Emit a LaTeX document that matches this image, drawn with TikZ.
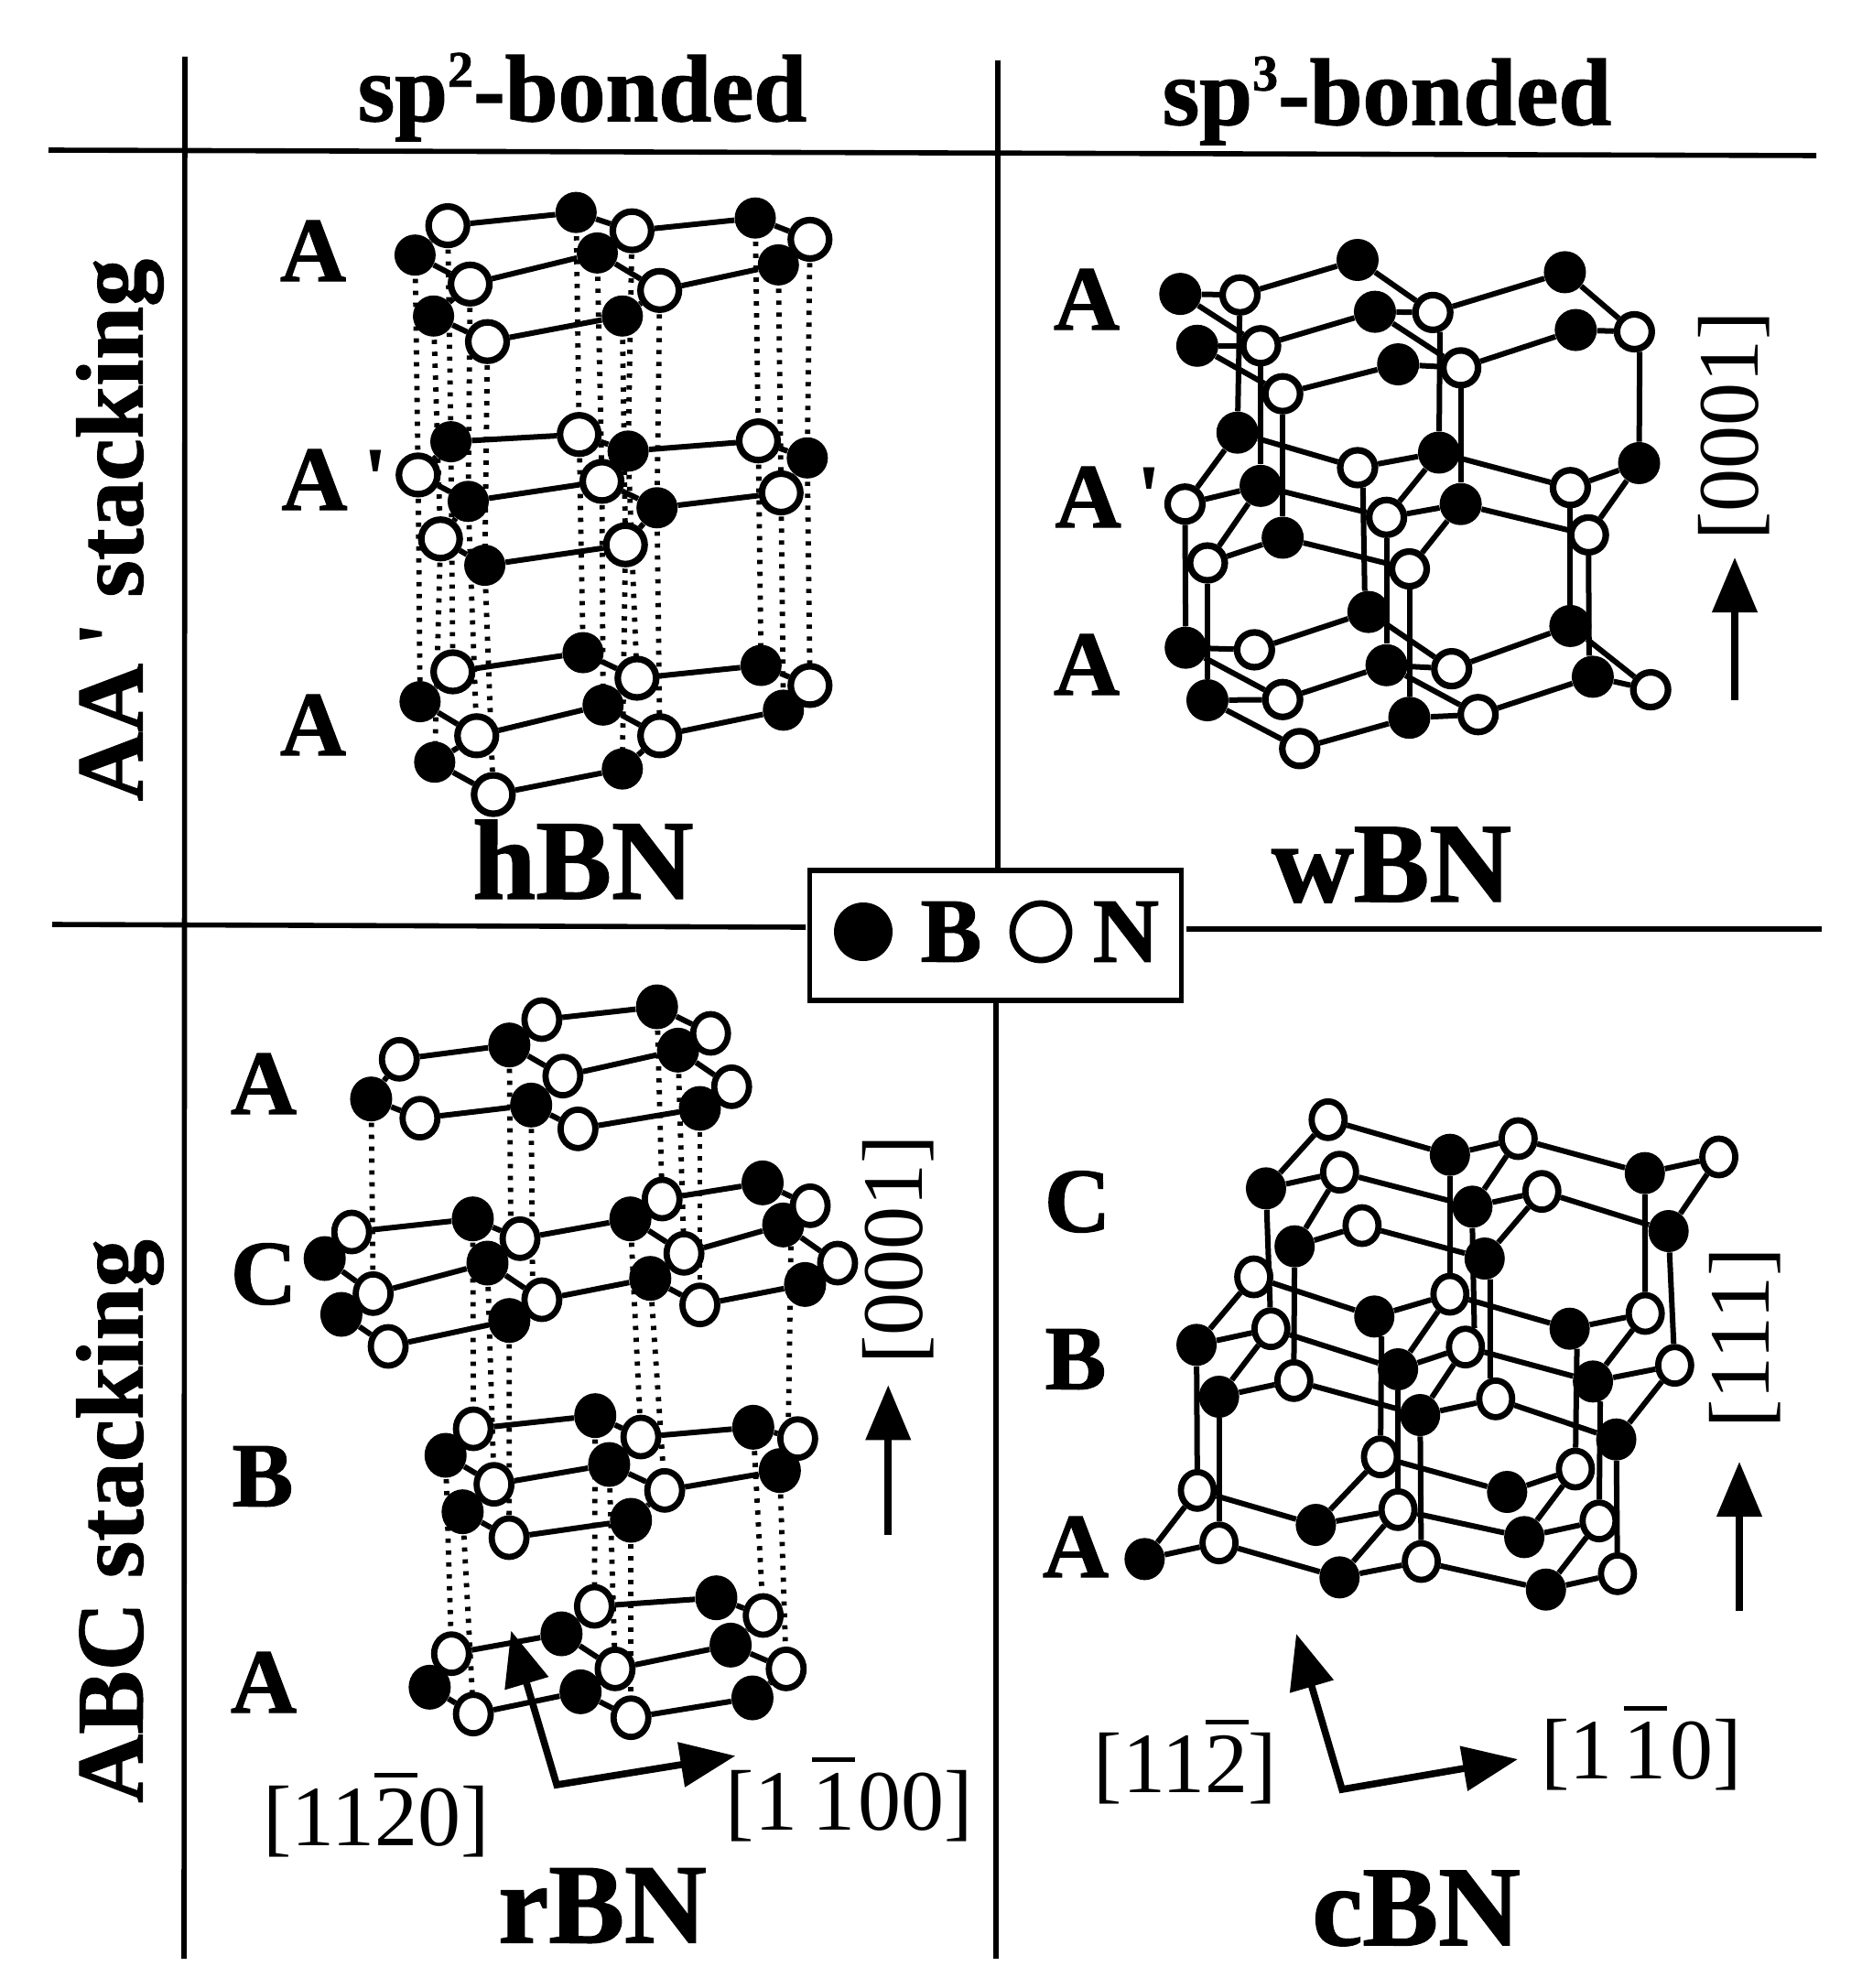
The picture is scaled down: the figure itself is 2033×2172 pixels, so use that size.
\documentclass[tikz,border=0pt]{standalone}
\usepackage{fontspec}
\setmainfont{Liberation Serif}[BoldFeatures={FakeBold=1.2}]
\newfontfamily\qf{Liberation Serif}
\usetikzlibrary{backgrounds,arrows.meta,shapes.geometric}
\newcommand\fsz[1]{\fontsize{#1}{#1}\selectfont}
\newcommand\ovb[1]{\setbox0=\hbox{#1}\rlap{\raisebox{\dimexpr\ht0+6pt\relax}{\rule{\wd0}{2.5pt}}}\box0\relax}
\newcommand\qmark{{\qf\bfseries\char39 }}
\newcommand\batom[3]{\node[batom] (#1) at (#2,#3) {};}
\newcommand\watom[3]{\node[watom] (#1) at (#2,#3) {};}
\newcommand\bonds[1]{\begin{pgfonlayer}{background}\foreach \a/\b in {#1} \draw[bond] (\a)--(\b);\end{pgfonlayer}}
\newcommand\dotbonds[1]{\begin{pgfonlayer}{background}\foreach \a/\b in {#1} \draw[dotbond] (\a)--(\b);\end{pgfonlayer}}
\tikzset{
 blk/.style={circle,fill=black,inner sep=0pt,minimum size=#1},
 wht/.style={circle,draw=black,fill=white,inner sep=0pt,line width=3.6pt,minimum size=#1},
 blke/.style 2 args={ellipse,fill=black,inner sep=0pt,minimum width=#1,minimum height=#2},
 whte/.style 2 args={ellipse,draw=black,fill=white,inner sep=0pt,line width=3.4pt,minimum width=#1,minimum height=#2},
 bond/.style={line width=3pt,black},
 dotbond/.style={line width=2.9pt,black,dash pattern=on 2.3pt off 4.2pt},
 frame/.style={line width=2.8pt,black},
 layerlab/.style={font=\bfseries\fsz{50pt},inner sep=0pt},
 bigname/.style={font=\bfseries\fsz{62pt},inner sep=0pt},
 headlab/.style={font=\bfseries\fsz{52pt},inner sep=0pt},
 sidelab/.style={font=\bfseries\fsz{52pt},inner sep=0pt,rotate=90},
 dirlab/.style={font=\fsz{47pt},inner sep=0pt},
 dirarrow/.style={line width=3.8pt,-{Triangle[length=30pt,width=24pt]}},
 axisarrow/.style={line width=3.8pt,miter limit=10,{Triangle[length=30pt,width=24pt]}-{Triangle[length=30pt,width=24pt]}},
}
\begin{document}
\begin{tikzpicture}[x=0.5pt,y=-0.5pt]
\useasboundingbox (0,0) rectangle (2033,2172);

% frame
\node[draw=black,line width=2.8pt,minimum width=203pt,minimum height=71pt,inner sep=0pt] (legend) at (1087.5,1022) {};
\coordinate (vlt) at (202,62); \coordinate (vlb) at (201,2140);
\coordinate (vct) at (1090,66); \coordinate (vcb) at (1088,2140);
\coordinate (fta) at (53,164); \coordinate (ftb) at (1984,170);
\coordinate (hla) at (57,1010); \coordinate (hlb) at (880,1013);
\coordinate (hra) at (1296,1015); \coordinate (hrb) at (1990,1015);
\draw[frame] (vlt)--(vlb);
\draw[frame] (vct)--(vct|-legend.north);
\draw[frame] (vcb|-legend.south)--(vcb);
\draw[frame] (fta)--(ftb);
\draw[frame] (hla)--(hlb);
\draw[frame] (hra)--(hrb);

% legend
\node[circle,fill=black,inner sep=0pt,minimum size=32pt] (legb) at (943,1018) {};
\node[layerlab] (legB) at (1039,1018) {B};
\node[circle,draw=black,fill=white,line width=3.4pt,inner sep=0pt,minimum size=31pt] (legn) at (1137,1018) {};
\node[layerlab] (legN) at (1230,1018) {N};

% headings
\node[headlab] (h1) at (636,106) {sp\raisebox{0.36em}{\fsz{28pt}2}-bonded};
\node[headlab] (h2) at (1515,110) {sp\raisebox{0.36em}{\fsz{28pt}3}-bonded};
\node[sidelab] (s1) at (131,579) {AA\,\qmark\ stacking};
\node[sidelab] (s2) at (131,1662) {ABC stacking};
\node[bigname] (n1) at (637,939) {hBN};
\node[bigname] (n2) at (1520,945) {wBN};
\node[bigname] (n3) at (658,2082) {rBN};
\node[bigname] (n4) at (1547,2085) {cBN};

% layer labels
\node[layerlab] (l1) at (342,274) {A};
\node[layerlab,anchor=west] (l2) at (307,524) {A\,\qmark};
\node[layerlab] (l3) at (342,792) {A};
\node[layerlab] (l4) at (1187,327) {A};
\node[layerlab,anchor=west] (l5) at (1152,543) {A\,\qmark};
\node[layerlab] (l6) at (1187,726) {A};
\node[layerlab] (l7) at (288,1184) {A};
\node[layerlab] (l8) at (288,1392) {C};
\node[layerlab] (l9) at (287,1613) {B};
\node[layerlab] (l10) at (288,1838) {A};
\node[layerlab] (l11) at (1177,1313) {C};
\node[layerlab] (l12) at (1175,1485) {B};
\node[layerlab] (l13) at (1175,1690) {A};

% hBN
\begin{scope}[shift={(280,180)},x=0.21044pt,y=-0.23277pt,batom/.style={blk=22.5pt},watom/.style={wht=21pt}]
\batom{htb}{830}{112}\batom{htd}{1295}{125}\batom{htf}{412}{212}\batom{hth}{885}{207}\batom{htj}{1355}{235}\batom{htk}{460}{355}\batom{htm}{950}{355}
\watom{hta}{497}{143}\watom{htc}{975}{155}\watom{hte}{1437}{175}\watom{htg}{555}{280}\watom{hti}{1047}{295}\watom{htl}{600}{415}
\batom{hma}{505}{650}\batom{hmc}{965}{672}\batom{hme}{1430}{688}\batom{hmg}{550}{790}\batom{hmi}{1040}{805}\batom{hml}{593}{940}
\watom{hmb}{838}{633}\watom{hmd}{1303}{648}\watom{hmf}{420}{728}\watom{hmh}{897}{743}\watom{hmj}{1362}{770}\watom{hmk}{478}{878}\watom{hmm}{958}{892}
\batom{hbb}{848}{1145}\batom{hbd}{1310}{1175}\batom{hbf}{425}{1260}\batom{hbh}{900}{1268}\batom{hbj}{1368}{1280}\batom{hbk}{463}{1402}\batom{hbm}{950}{1418}
\watom{hba}{510}{1190}\watom{hbc}{988}{1205}\watom{hbe}{1437}{1222}\watom{hbg}{572}{1340}\watom{hbi}{1047}{1340}\watom{hbl}{615}{1478}
\bonds{hta/htb,htb/htc,htc/htd,htd/hte,htf/hta,htf/htg,htg/hth,hth/htc,hth/hti,hti/htj,htj/hte,htk/htg,htk/htl,htl/htm,htm/hti}
\bonds{hma/hmb,hmb/hmc,hmc/hmd,hmd/hme,hmf/hma,hmf/hmg,hmg/hmh,hmh/hmc,hmh/hmi,hmi/hmj,hmj/hme,hmk/hmg,hmk/hml,hml/hmm,hmm/hmi}
\bonds{hba/hbb,hbb/hbc,hbc/hbd,hbd/hbe,hbf/hba,hbf/hbg,hbg/hbh,hbh/hbc,hbh/hbi,hbi/hbj,hbj/hbe,hbk/hbg,hbk/hbl,hbl/hbm,hbm/hbi}
\end{scope}
\foreach \k in {a,b,c,d,e,f,g,h,i,j,k,l,m}{
 \begin{pgfonlayer}{background}
 \draw[dotbond] (ht\k.center)--(hm\k.center);
 \draw[dotbond] (hm\k.center)--(hb\k.center);
 \end{pgfonlayer}}

% wBN
\begin{scope}[shift={(1230,240)},x=0.19763pt,y=-0.19135pt,batom/.style={blk=23pt},watom/.style={wht=19pt}]
\batom{wta}{150}{212}\watom{wtb}{315}{215}\batom{wtc}{640}{115}\watom{wtd}{848}{265}\batom{wte}{1213}{150}\watom{wtf}{1405}{320}
\batom{wtg}{197}{360}\watom{wth}{372}{360}\batom{wti}{688}{263}\watom{wtj}{925}{423}\batom{wtk}{1243}{315}\watom{wtl}{433}{497}\batom{wtm}{752}{413}
\batom{wma}{308}{608}\watom{wmb}{640}{708}\batom{wmc}{865}{665}\watom{wmd}{1228}{765}\batom{wme}{1418}{695}
\watom{wmf}{163}{812}\batom{wmg}{372}{760}\watom{wmh}{720}{850}\batom{wmi}{925}{812}\watom{wmj}{1278}{900}\watom{wmk}{225}{980}\batom{wml}{433}{908}\watom{wmm}{783}{997}
\batom{wba}{165}{1222}\watom{wbb}{355}{1228}\batom{wbc}{670}{1120}\watom{wbd}{900}{1282}\batom{wbe}{1228}{1160}\watom{wbf}{1450}{1342}
\batom{wbg}{225}{1372}\watom{wbh}{433}{1370}\batom{wbi}{720}{1272}\watom{wbj}{973}{1413}\batom{wbk}{1290}{1305}\watom{wbl}{480}{1510}\batom{wbm}{783}{1422}
\bonds{wta/wtb,wtb/wtc,wtc/wtd,wtd/wte,wte/wtf,wta/wth,wtg/wth,wth/wti,wti/wtd,wti/wtj,wtj/wtk,wtk/wtf,wtg/wtl,wtl/wtm,wtm/wtj}
\bonds{wma/wmf,wma/wmb,wmb/wmc,wmc/wmh,wmc/wmd,wmd/wme,wme/wmj,wmf/wmg,wmg/wmk,wmg/wmh,wmh/wmi,wmi/wmm,wmi/wmj,wmk/wml,wml/wmm}
\bonds{wba/wbb,wbb/wbc,wbc/wbd,wbd/wbe,wbe/wbf,wba/wbh,wbg/wbh,wbh/wbi,wbi/wbd,wbi/wbj,wbj/wbk,wbk/wbf,wbg/wbl,wbl/wbm,wbm/wbj}
\bonds{wtb/wma,wth/wmg,wtl/wml,wtd.-70/wmc,wtj/wmi,wtf.-75/wme,wmf/wba,wmk/wbg,wmb.-75/wbc.100,wmh/wbi,wmm/wbm,wmd/wbe,wmj/wbk.100}
\end{scope}

% rBN
\begin{scope}[shift={(320,1060)},x=0.21683pt,y=-0.16667pt,batom/.style={blke={23pt}{24.5pt}},watom/.style={whte={19pt}{21pt}}]
\batom{rtb}{545}{245}\batom{rtd}{917}{120}\batom{rtf}{197}{422}\batom{rth}{600}{442}\batom{rtj}{970}{262}\batom{rtm}{1025}{453}
\watom{rta}{268}{292}\watom{rtc}{627}{162}\watom{rte}{1052}{207}\watom{rtg}{320}{485}\watom{rti}{680}{347}\watom{rtk}{1105}{382}\watom{rtl}{718}{520}
\batom{rcb}{453}{815}\batom{rcd}{850}{815}\batom{rcf}{1183}{697}\batom{rch}{80}{945}\batom{rcj}{490}{960}\batom{rcl}{900}{1010}\batom{rcn}{1235}{835}\batom{rcp}{122}{1128}\batom{rcr}{545}{1148}\batom{rct}{1290}{1030}
\watom{rca}{148}{858}\watom{rcc}{572}{880}\watom{rce}{930}{750}\watom{rcg}{1303}{772}\watom{rci}{202}{1060}\watom{rck}{627}{1080}\watom{rcm}{985}{928}\watom{rco}{1372}{960}\watom{rcq}{240}{1233}\watom{rcs}{1025}{1097}
\bonds{rta/rtb,rtb/rtc,rtc/rtd,rtd/rte,rtf/rta,rtf/rtg,rtg/rth,rth/rti,rtb/rti,rti/rtj,rtj/rte,rtj/rtk,rth/rtl,rtl/rtm,rtm/rtk}
\bonds{rca/rcb,rcb/rcc,rcc/rcd,rcd/rce,rce/rcf,rcf/rcg,rch/rca,rch/rci,rci/rcj,rcj/rcc,rcj/rck,rck/rcl,rcl/rcm,rcm/rcd,rcm/rcn,rcn/rcg,rcn/rco,rcp/rci,rcp/rcq,rcq/rcr,rcr/rck,rcl/rcs,rcs/rct,rct/rco}
\end{scope}
\begin{scope}[shift={(400,1480)},x=0.21683pt,y=-0.16667pt,batom/.style={blke={23pt}{24.5pt}},watom/.style={whte={19pt}{21pt}}]
\batom{rbb}{577}{200}\batom{rbd}{975}{238}\batom{rbf}{200}{330}\batom{rbh}{612}{360}\batom{rbj}{1042}{380}\batom{rbk}{243}{515}\batom{rbm}{667}{543}
\watom{rba}{270}{243}\watom{rbc}{692}{270}\watom{rbe}{1087}{275}\watom{rbg}{322}{425}\watom{rbi}{752}{445}\watom{rbl}{360}{600}
\batom{rab}{882}{797}\batom{rae}{492}{915}\batom{rag}{918}{952}\batom{rai}{160}{1090}\batom{rak}{540}{1105}\batom{ram}{973}{1125}
\watom{raa}{575}{825}\watom{rac}{1000}{855}\watom{rad}{215}{980}\watom{raf}{627}{1030}\watom{rah}{1058}{1030}\watom{raj}{270}{1178}\watom{ral}{667}{1190}
\bonds{rba/rbb,rbb/rbc,rbc/rbd,rbd/rbe,rbf/rba,rbf/rbg,rbg/rbh,rbh/rbc,rbh/rbi,rbi/rbj,rbj/rbe,rbk/rbg,rbk/rbl,rbl/rbm,rbm/rbi}
\bonds{raa/rab,rab/rac,rae/raa,rad/rae,rae/raf,raf/rag,rag/rac,rag/rah,rai/rad,rai/raj,raj/rak,rak/raf,rak/ral,ral/ram,ram/rah}
\coordinate (rcorner) at (480,1410);
\coordinate (rup) at (365,905);
\coordinate (rright) at (930,1315);
\coordinate (rarrowtip) at (1315,100);
\coordinate (rarrowend) at (1315,590);
\end{scope}
\dotbonds{rtf.center/rci.center,rtb.center/rcc.115,rth.center/rck.115,rtd.center/rce.center,rtj.center/rcm.center,rtm.center/rcs.center,rcb.center/rba.center,rcj.center/rbg.center,rcr.center/rbl.center,rcd.center/rbc.center,rcl.center/rbi.center,rcn.-70/rbe.115,rbf.center/rad.center,rbk.center/raj.center,rbb.center/raa.center,rbh.center/raf.center,rbm.center/ral.center,rbd.center/rac.center,rbj.center/rah.center}
\draw[axisarrow] (rup)--(rcorner)--(rright);
\draw[dirarrow] (rarrowend)--(rarrowtip);

% cBN
\begin{scope}[shift={(1220,1190)},x=0.22321pt,y=-0.16667pt,batom/.style={blke={22pt}{23pt}},watom/.style={whte={18pt}{20pt}}]
\batom{ctb}{815}{215}\batom{ctd}{1292}{275}\batom{ctf}{365}{325}\batom{cth}{870}{385}\batom{ctj}{1350}{465}\batom{ctk}{435}{515}\batom{ctm}{900}{555}
\watom{cta}{517}{100}\watom{ctc}{982}{162}\watom{cte}{1473}{222}\watom{ctg}{545}{272}\watom{cti}{1040}{335}\watom{ctl}{600}{447}
\batom{cmb}{630}{745}\batom{cmd}{1108}{785}\batom{cmf}{195}{838}\batom{cmh}{688}{918}\batom{cmj}{1165}{958}\batom{cml}{250}{1008}\batom{cmn}{742}{1068}\batom{cmp}{1222}{1148}
\watom{cma}{335}{615}\watom{cmc}{815}{672}\watom{cme}{1293}{735}\watom{cmg}{377}{785}\watom{cmi}{853}{845}\watom{cmk}{1365}{905}\watom{cmm}{433}{955}\watom{cmo}{927}{1015}
\batom{cbb}{487}{1428}\batom{cbd}{955}{1320}\batom{cbf}{68}{1540}\batom{cbi}{997}{1468}\batom{cbk}{545}{1600}\batom{cbm}{1050}{1640}
\watom{cba}{197}{1315}\watom{cbc}{645}{1205}\watom{cbe}{1122}{1245}\watom{cbg}{250}{1487}\watom{cbh}{688}{1378}\watom{cbj}{1180}{1415}\watom{cbl}{745}{1548}\watom{cbn}{1225}{1588}
\bonds{cta/ctb,ctb/ctc,ctc/ctd,ctd/cte,ctf/cta,ctf/ctg,ctg/cth,cth/ctc,cth/cti,cti/ctj,ctj/cte,ctk/ctg,ctk/ctl,ctl/ctm,ctm/cti}
\bonds{cma/cmb,cmb/cmc,cmc/cmd,cmd/cme,cmf/cma,cmf/cmg,cmg/cmh,cmh/cmc,cmh/cmi,cmi/cmj,cmj/cme,cmj/cmk,cml/cmg,cml/cmm,cmm/cmn,cmn/cmi,cmn/cmo,cmo/cmp,cmp/cmk}
\bonds{cba/cbb,cbb/cbc,cbc/cbd,cbd/cbe,cbf/cba,cbf/cbg,cbg/cbk,cbk/cbh,cbb/cbh,cbh/cbi,cbi/cbe,cbi/cbj,cbk/cbl,cbl/cbm,cbm/cbj,cbm/cbn}
\bonds{ctf/cmg,ctk/cmm,ctb/cmc,cth.-90/cmi.65,ctm.-75/cmo.105,ctd/cme,ctj/cmk,cmf/cba,cml/cbg,cmb.-70/cbc,cmh/cbh,cmn/cbl,cmd.-70/cbe,cmj.-70/cbj,cmp/cbn}
\end{scope}
\coordinate (ccorner) at (1466,1955);
\coordinate (cup) at (1416,1785);
\coordinate (cright) at (1658,1922);
\draw[axisarrow] (cup)--(ccorner)--(cright);
\coordinate (carrowtip) at (1900,1597);
\coordinate (carrowend) at (1900,1760);
\draw[dirarrow] (carrowend)--(carrowtip);
\coordinate (warrowtip) at (1895,609);
\coordinate (warrowend) at (1895,765);
\draw[dirarrow] (warrowend)--(warrowtip);

% direction labels
\node[dirlab,rotate=90] (d1) at (1894,465) {[0001]};
\node[dirlab,rotate=90] (d2) at (981,1365) {[0001]};
\node[dirlab,rotate=90] (d3) at (1906,1462) {[111]};
\node[dirlab] (d4) at (411,1983) {[11\ovb{2}0]};
\node[dirlab] (d5) at (928,1966) {[1\hspace{8pt}\ovb{1}\hspace{2pt}00]};
\node[dirlab] (d6) at (1295,1925) {[11\ovb{2}]};
\node[dirlab] (d7) at (1793,1910) {[1\hspace{6pt}\ovb{1}\hspace{2pt}0]};
\end{tikzpicture}
\end{document}
